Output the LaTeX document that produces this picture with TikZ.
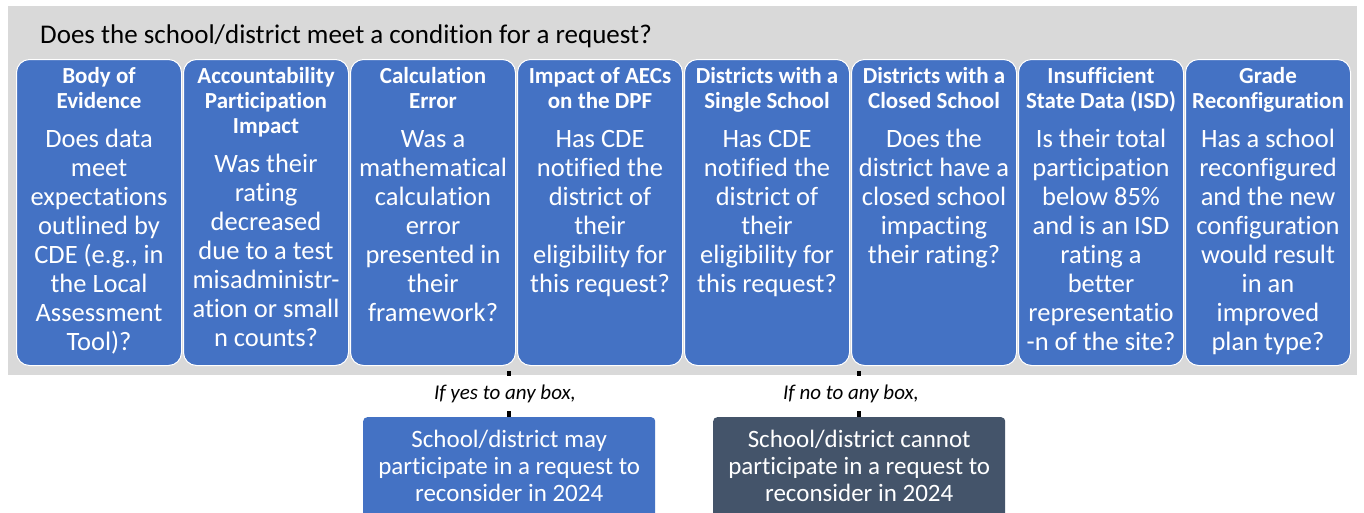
\documentclass[tikz,border=0pt]{standalone}
\usepackage{fontspec}
\setmainfont{Carlito}[Ligatures=NoCommon]
\definecolor{cblue}{HTML}{4472C4}
\definecolor{cdark}{HTML}{44546A}
\definecolor{cgray}{HTML}{D9D9D9}
\newcommand{\qtext}[2]{\parbox[c][306pt][t]{165pt}{\centering
  {\bfseries\fontsize{23}{25}\selectfont\rule{0pt}{24pt}#1\par}\vspace{10pt}%
  {\fontsize{26.5}{29}\selectfont #2\par}}}
\newcommand{\otext}[1]{\parbox[c][100pt][t]{292pt}{\centering
  \fontsize{25}{27}\selectfont\rule{0pt}{30pt}#1\par}}
\begin{document}
\begin{tikzpicture}[x=1pt,y=-1pt,
  qbox/.style={draw=white, line width=1pt, fill=cblue, rounded corners=13pt,
    minimum width=165pt, minimum height=306pt, anchor=north west, inner sep=0pt,
    text=white},
  obox/.style={draw=none, rounded corners=4pt, minimum width=292pt,
    minimum height=100pt, anchor=north west, inner sep=0pt, text=white},
  conn/.style={draw=black, line width=4pt},
  lbl/.style={fill=white, inner sep=0pt, minimum height=35pt, minimum width=160pt,
    font=\fontsize{21}{24}\selectfont\itshape}]
\clip (0,0) rectangle (1364,512);
\fill[white] (0,0) rectangle (1364,512);
\node[fill=cgray, anchor=north west, minimum width=1349pt, minimum height=369pt,
  inner sep=0pt] (bg) at (8,6) {};
\node[anchor=base west, inner sep=0pt, font=\fontsize{27}{30}\selectfont] (title)
  at (40,43) {Does the school/district meet a condition for a request?};
\node[qbox] (b1) at (16,59) {\qtext{Body of\\Evidence}{Does data\\meet\\expectations\\outlined by\\CDE (e.g., in\\the Local\\Assessment\\Tool)?}};
\node[qbox] (b2) at (183,59) {\qtext{Accountability\\Participation\\Impact}{Was their\\rating\\decreased\\due to a test\\misadministr-\\ation or small\\n counts?}};
\node[qbox] (b3) at (350,59) {\qtext{Calculation\\Error}{Was a\\mathematical\\calculation\\error\\presented in\\their\\framework?}};
\node[qbox] (b4) at (517,59) {\qtext{Impact of AECs\\on the DPF}{Has CDE\\notified the\\district of\\their\\eligibility for\\this request?}};
\node[qbox] (b5) at (684,59) {\qtext{Districts with a\\Single School}{Has CDE\\notified the\\district of\\their\\eligibility for\\this request?}};
\node[qbox] (b6) at (851,59) {\qtext{Districts with a\\Closed School}{Does the\\district have a\\closed school\\impacting\\their rating?}};
\node[qbox] (b7) at (1018,59) {\qtext{Insufficient\\State Data (ISD)}{Is their total\\participation\\below 85\%\\and is an ISD\\rating a\\better\\representatio\\-n of the site?}};
\node[qbox] (b8) at (1185,59) {\qtext{Grade\\Reconfiguration}{Has a school\\reconfigured\\and the new\\configuration\\would result\\in an\\improved\\plan type?}};
\node[obox, fill=cblue] (yes) at (363,417) {\otext{School/district may\\participate in a request to\\reconsider in 2024}};
\node[obox, fill=cdark] (no) at (713,417) {\otext{School/district cannot\\participate in a request to\\reconsider in 2024}};
\coordinate (yestop) at ([yshift=4pt]yes.north |- bg.south);
\coordinate (notop) at ([yshift=4pt]no.north |- bg.south);
\draw[conn] (yestop) -- (yes.north);
\draw[conn] (notop) -- (no.north);
\node[lbl] (ly) at (505,393.5) {If yes to any box,};
\node[lbl] (ln) at (851,393.5) {If no to any box,};
\end{tikzpicture}
\end{document}
